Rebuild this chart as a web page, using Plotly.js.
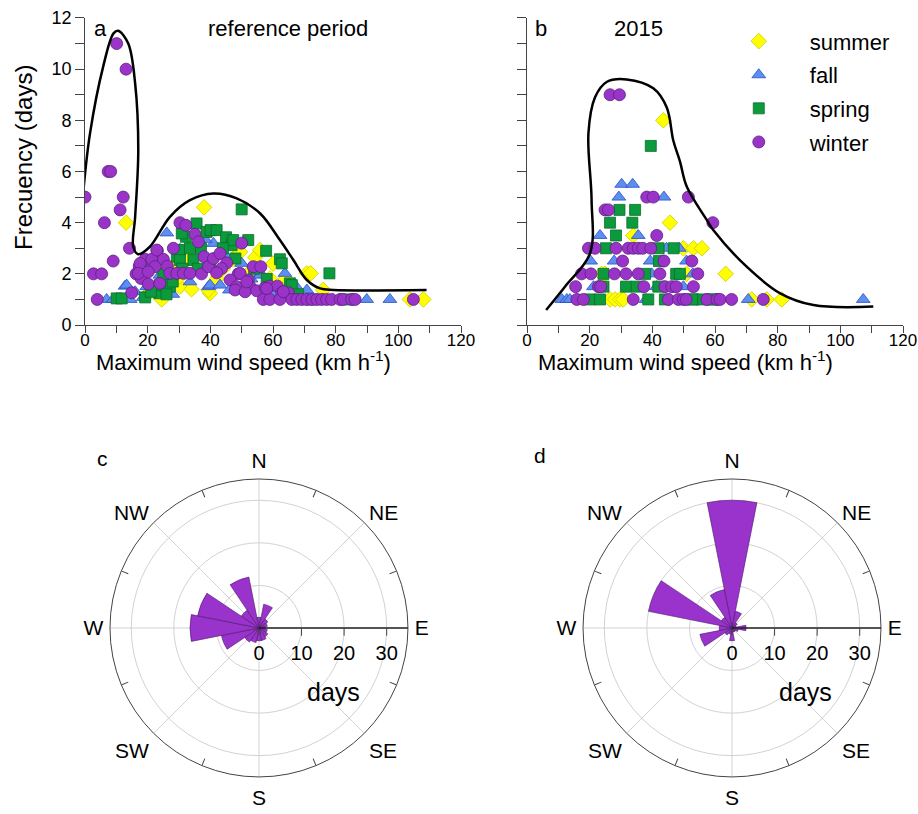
<!DOCTYPE html>
<html>
<head>
<meta charset="utf-8">
<script src="https://cdn.plot.ly/plotly-3.0.1.min.js"></script>
<style>html,body{margin:0;padding:0;background:#fff}#chart{width:918px;height:814px}</style>
</head>
<body>
<div id="chart"></div>
<script>
// ---------- Panel a (reference period) ----------
const aWinterX = [0,10.1,13.1,7.4,8.2,12.2,11.2,6.2,14.2,9,2.7,5.3,3.9,23.1,19.2,21.3,25,28.2,30.3,32.2,35.1,36.2,38,17.3,22.3,26.3,16.3,17.9,27.1,29.3,31.4,33.5,37.2,39.4,20.2,23.9,14.9,50,41,43.1,45.2,43.6,42,53.7,56.1,48.9,46.3,48.4,52.1,52.7,47.9,51.1,54.8,57.5,59,61.4,62.8,64.9,56.9,59,62.2,66,67.6,69.2,70.8,72.4,74,75.5,77.1,78.7,81.4,82.4,85.1,86.2,104.8,49.5,51.6,58,63.3,17.6,22.9,17,20.2];
const aWinterY = [5,11,10,6,6,5,4.5,4,3,2.5,2,2,1,2.9,2.57,2.57,2.57,3,4,3.9,3.55,3.25,2.67,2.3,2.28,2.3,2,1.82,2.02,2.02,2.02,2.02,2,2.28,1.6,1.63,1.26,3.2,2.6,2.8,2.43,2.21,2.04,2.28,2.28,2,1.76,1.5,1.76,1.5,1.37,1.3,1.34,1.47,1.52,1.52,1.26,1.26,1,1,1,1,1,1,1,1,1,1,1,1,1,1,1,1,1,2.02,1.69,1.43,1.3,2.41,2.93,2.02,2.08];
const aSpringX = [10.1,11.7,19.2,23.7,27.1,23.9,29.3,30.3,32.2,35.6,38.8,34.6,30.3,50,40.1,42,45,52.1,57.8,62.2,62.8,46.8,65.4,78,66,30.9,47.3,21,26,28,31,25,37,44,48,54,58,68,72,84,33.5,36,39.9];
const aSpringY = [1.04,1.04,1.08,1.24,1.5,1.56,2.67,2.93,3.45,3.97,3.64,2.54,2.54,4.52,3.71,3.71,3.43,3.32,2.9,2.57,2.41,3.12,1.63,2.02,1.56,3.58,3.32,1.3,1.2,1.7,2.2,2,3,3,2.6,2.2,1.8,1.2,1,1,3,2.2,2.47];
const aSummerX = [13.1,38,47.1,54.3,55.9,59,39.9,70.8,72,76,103.7,108,49.5,24.5,30.3,39.4,30.3,44,34,60,64,52,28,20,42,36,33];
const aSummerY = [4,4.6,2.57,2.64,2.93,1.82,1.24,2.02,2.02,1.37,1,1,2.86,1,1.5,1.37,1.89,2.2,1.4,2.4,1.8,2,2.3,1.2,1.8,3.1,2.6];
const aFallX = [6.9,9,14.4,18.6,12.8,26.1,30.3,32.7,35.1,20.2,23.9,33.5,39.4,41,38.3,50,56.1,63.8,39.9,43.1,46.1,67.3,70.8,89.9,97.3,55.9,13.3,19.7,27.1,16,22,28,45,53,60,76];
const aFallY = [1,1,1,1.08,1.52,3.6,2.96,2.96,2.96,2.21,1.95,1.69,1.5,3.19,3.35,2.41,2.02,2.02,1.56,1.56,1.37,1.52,1.37,1,1,1.95,1.56,1.5,1.76,1.3,1.3,1.2,2.7,1.8,1.2,1];
const aCurveX = [-0.5,1.6,5.8,9.1,10.6,13.8,16,17,16,15.4,17,20.7,27.1,33.5,41,48.4,55.9,62.2,66.5,70.8,75,79.3,109];
const aCurveY = [5.27,7.49,10.1,11.4,11.5,11.0,9.44,6.84,4.23,3.06,2.77,3.06,4.23,4.88,5.14,4.95,4.36,3.32,2.54,1.76,1.43,1.37,1.37];

// ---------- Panel b (2015) ----------
const bWinterX = [26.5,29.5,38.2,40.3,51.5,24.9,26.0,59.3,41.4,19.6,21.7,28.4,32.3,33.9,35.5,36.9,39.5,30.5,43.7,52.6,17.4,20.4,27.9,31.6,35.5,42.4,54.5,15.5,22.8,23.5,37.3,44.0,46.2,47.6,53.1,15.9,18.0,33.9,45.1,48.3,49.9,50.8,57.4,60.6,61.6,65.3,75.4];
const bWinterY = [9,9,5,5,5,4.5,4.5,4,3.5,3,3,3,3,3,3,3,3,2.5,2.5,2.5,2,2,2,2,2,2,2,1.5,1.5,1.5,1.5,1.5,1.5,1.5,1.5,1,1,1,1,1,1,1,1,1,1,1,1];
const bSpringX = [39.5,29.5,34.5,26.5,33.6,28.4,25.2,42.0,46.8,42.1,24.4,37.7,47.6,48.8,24.4,31.6,35.0,41.9,20.1,23.3,38.7,44.0,53.1,55.8,59.0,52.7,59.4];
const bSpringY = [7,4.5,4.5,4,4,3.5,3,3,3,2.5,2,2,2,2,1.5,1.5,1.5,1.5,1,1,1,1,1,1,1,1,1];
const bFallX = [30.2,33.7,29.3,43.7,23.3,35.5,44.5,48.6,20.3,27.8,39.3,50.9,39.8,52.9,21.2,41.4,49.9,11.1,12.7,13.7,38.0,70.6,107.3];
const bFallY = [5.5,5.5,5,5,3.5,3.5,3,3,2.5,2.5,2.5,2.5,2,2,1.5,1.5,1.5,1,1,1,1,1,1];
const bSummerX = [43.5,45.6,33.9,49.9,53.1,55.8,23.8,24.9,50.9,63.4,26.5,28.1,29.7,30.7,71.7,76.5,81.3];
const bSummerY = [8,4,3.5,3,3,3,2,2,2,2,1,1,1,1,1,1,1];
const bCurveX = [6.1,12.1,20.1,20.6,19.6,21.7,25.4,31.8,40.3,44.6,46.7,48.8,51,57.4,59.5,70.1,80.8,91.4,110.5];
const bCurveY = [0.59,1.5,2.8,4.9,7.5,8.9,9.5,9.6,9.25,8.5,7.2,6.4,5.4,4.1,3.7,2.28,1.24,0.78,0.72];

// ---------- Wind roses ----------
const directions = [0,22.5,45,67.5,90,112.5,135,157.5,180,202.5,225,247.5,270,292.5,315,337.5];
const cDays = [2.5,5.7,2.5,2,1.5,2,2.5,3,3,3.5,4,9,16.2,14.7,5,12.2];
const dDays = [30,4,1.5,1,3.3,1.5,1,1,3,1.5,2,7.7,3,20,3,9.2];
const compassVals = [0,45,90,135,180,225,270,315];
const compassText = ['N','NE','E','SE','S','SW','W','NW'];
const minorVals = [22.5,67.5,112.5,157.5,202.5,247.5,292.5,337.5];
const radialTicks = [0,10,20,30];
const yTicks = [0,2,4,6,8,10,12];
const xTicks = [0,20,40,60,80,100,120];

const FONT = 'Liberation Sans, Arial, sans-serif';
const styles = {
  summer: {symbol:'diamond', size:12, color:'#ffff00', line:{color:'#cccc00', width:0.8}},
  fall:   {symbol:'triangle-up', size:12, color:'#5b8ff0', line:{color:'#2c4fc2', width:0.8}},
  spring: {symbol:'square', size:11, color:'#0b9a3c', line:{color:'#0a6e2c', width:0.8}},
  winter: {symbol:'circle', size:12, color:'#9a34c8', line:{color:'#5d1f82', width:0.8}}
};
function sc(x, y, name, xa, ya, show) {
  return {type:'scatter', mode:'markers', x:x, y:y, name:name, legendgroup:name,
          showlegend:show, xaxis:xa, yaxis:ya, marker:styles[name], hoverinfo:'x+y'};
}
const traces = [
  sc(aSummerX,aSummerY,'summer','x','y',false),
  sc(aFallX,aFallY,'fall','x','y',false),
  sc(aSpringX,aSpringY,'spring','x','y',false),
  sc(aWinterX,aWinterY,'winter','x','y',false),
  {type:'scatter', mode:'lines', x:aCurveX, y:aCurveY, xaxis:'x', yaxis:'y', showlegend:false,
   line:{color:'#000', width:2.5, shape:'spline', smoothing:1}},
  sc(bSummerX,bSummerY,'summer','x2','y2',true),
  sc(bFallX,bFallY,'fall','x2','y2',true),
  sc(bSpringX,bSpringY,'spring','x2','y2',true),
  sc(bWinterX,bWinterY,'winter','x2','y2',true),
  {type:'scatter', mode:'lines', x:bCurveX, y:bCurveY, xaxis:'x2', yaxis:'y2', showlegend:false,
   line:{color:'#000', width:2.5, shape:'spline', smoothing:1}},
  {type:'barpolar', r:cDays, theta:directions, width:22.5, subplot:'polar', showlegend:false,
   marker:{color:'#9933cc', line:{color:'#4a1868', width:0.6}}},
  {type:'barpolar', r:dDays, theta:directions, width:22.5, subplot:'polar2', showlegend:false,
   marker:{color:'#9933cc', line:{color:'#4a1868', width:0.6}}},
  {type:'scatterpolar', r:[], theta:[], subplot:'polar3', showlegend:false},
  {type:'scatterpolar', r:[], theta:[], subplot:'polar4', showlegend:false}
];

function xax(domain) {
  return {domain:domain, range:[0,120], tickvals:xTicks, ticks:'outside', ticklen:7, tickcolor:'#444',
    showline:true, linecolor:'#444', linewidth:1, showgrid:false, zeroline:false,
    minor:{dtick:10, tick0:0, ticks:'outside', ticklen:7, tickcolor:'#444', showgrid:false},
    tickfont:{size:17, color:'#000'}, ticklabelstandoff:-7};
}
function yax(anchor, labels) {
  return {domain:[0.6007,0.9779], anchor:anchor, range:[0,12], tickvals:yTicks, ticks:'outside', ticklen:9,
    tickcolor:'#444', showline:true, linecolor:'#444', linewidth:1, showgrid:false, zeroline:false,
    minor:{dtick:1, tick0:0, ticks:'outside', ticklen:9, tickcolor:'#444', showgrid:false},
    showticklabels:labels, tickfont:{size:18, color:'#000'}};
}
const polarY = [0.0455, 0.4116];
function polarMain(xd) {
  return {domain:{x:xd, y:polarY}, bgcolor:'rgba(0,0,0,0)',
    angularaxis:{direction:'clockwise', rotation:90, tickmode:'array', tickvals:compassVals, ticktext:compassText,
      showline:true, linecolor:'#444', linewidth:1, showgrid:true, gridcolor:'#d2d2d2', gridwidth:1,
      ticks:'outside', ticklen:2, tickcolor:'rgba(0,0,0,0)', tickfont:{size:21, color:'#000'}},
    radialaxis:{range:[0,35], tickvals:radialTicks, angle:0, side:'clockwise', showline:true,
      linecolor:'#222', linewidth:1.5, ticks:'outside', ticklen:7, tickcolor:'#444',
      showgrid:true, gridcolor:'#d2d2d2', gridwidth:1, tickfont:{size:20, color:'#000'}}};
}
function polarTicks(xd) {
  return {domain:{x:xd, y:polarY}, bgcolor:'rgba(0,0,0,0)',
    angularaxis:{direction:'clockwise', rotation:90, tickmode:'array', tickvals:minorVals,
      showticklabels:false, showline:false, showgrid:false, ticks:'inside', ticklen:7, tickcolor:'#444'},
    radialaxis:{visible:false, range:[0,35]}};
}
const anno = (text, x, y, xanchor, size, angle) => ({text:text, x:x, y:y, xref:'paper', yref:'paper', showarrow:false,
  xanchor:xanchor, yanchor:'middle', textangle:angle || 0, font:{size:size, color:'#000', family:FONT}});

const xTitle = 'Maximum wind speed (km h<sup>-1</sup>)';
const layout = {
  width:918, height:814, margin:{l:0, r:0, t:0, b:0},
  paper_bgcolor:'#fff', plot_bgcolor:'#fff',
  font:{family:FONT, color:'#000'},
  xaxis: Object.assign(xax([0.0926,0.5022]), {anchor:'y'}),
  yaxis: yax('x', true),
  xaxis2: Object.assign(xax([0.5741,0.9837]), {anchor:'y2'}),
  yaxis2: yax('x2', false),
  polar: polarMain([0.1198,0.4444]),
  polar2: polarMain([0.6351,0.9597]),
  polar3: polarTicks([0.1198,0.4444]),
  polar4: polarTicks([0.6351,0.9597]),
  legend:{x:0.771, y:0.975, xanchor:'left', yanchor:'top', font:{size:22, color:'#000'},
    bgcolor:'rgba(0,0,0,0)', tracegroupgap:2, itemwidth:92},
  annotations:[
    anno('a', 0.100, 0.9656, 'left', 22),
    anno('reference period', 0.3137, 0.9656, 'center', 22),
    anno('b', 0.581, 0.9656, 'left', 22),
    anno('2015', 0.695, 0.9656, 'center', 22),
    anno('c', 0.103, 0.437, 'left', 21),
    anno('d', 0.580, 0.441, 'left', 21),
    anno(xTitle, 243/918, 1-361/814, 'center', 22),
    anno(xTitle, 685/918, 1-361/814, 'center', 22),
    anno('Frecuency (days)', 23/918, 1-158/814, 'center', 24, -90),
    anno('days', 333/918, 1-692/814, 'center', 25),
    anno('days', 805/918, 1-692/814, 'center', 25)
  ],
  showlegend:true
};
Plotly.newPlot('chart', traces, layout, {displayModeBar:false, staticPlot:true});
</script>
</body>
</html>
